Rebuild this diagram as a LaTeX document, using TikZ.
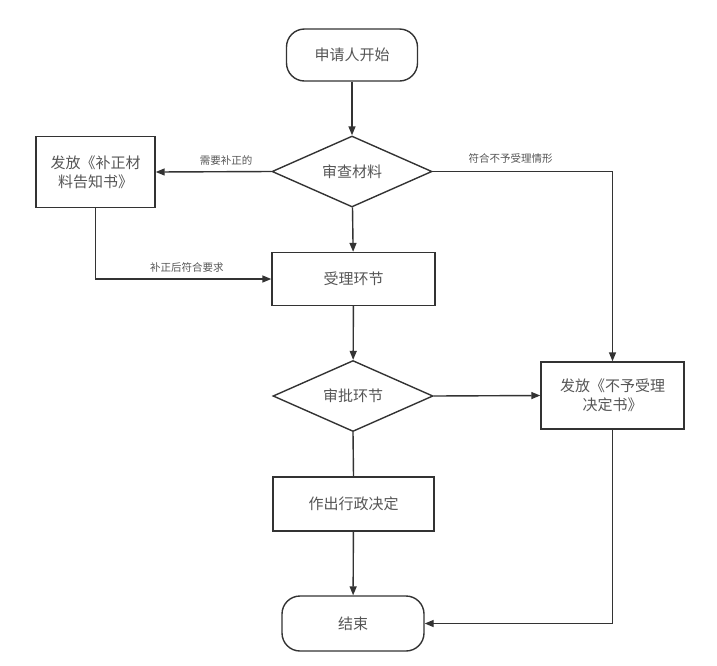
\documentclass[tikz,border=0pt]{standalone}
\usepackage{fontspec}
\setmainfont{Noto Sans CJK SC}
\usetikzlibrary{arrows.meta,shapes.geometric}
\definecolor{linec}{HTML}{333333}
\definecolor{textc}{HTML}{555555}
\tikzset{
  base/.style={draw=linec, line width=1.4pt, text=textc, font=\fontsize{15}{19}\selectfont, align=center, inner sep=0pt},
  term/.style={base, rounded corners=18pt, minimum width=#1, minimum height=52pt},
  procbox/.style={base, rectangle, minimum width=#1},
  decide/.style={base, diamond, aspect=2.25, minimum width=160pt, minimum height=71pt},
  conn/.style={draw=linec, line width=1.4pt, -{Triangle[length=9pt,width=7pt]}},
  plain/.style={draw=linec, line width=1.4pt},
  lbl/.style={text=textc, font=\fontsize{10.5}{12}\selectfont, inner sep=1pt}
}
\begin{document}
\begin{tikzpicture}[x=1pt,y=-1pt]
\useasboundingbox (0,0) rectangle (717,665);
\node[term=131pt] (start) at (352,55) {申请人开始};
\node[decide] (check) at (352,171.5) {审查材料};
\node[procbox=119pt, minimum height=71pt] (notice) at (95.5,172) {发放《补正材\\料告知书》};
\node[procbox=163pt, minimum height=53pt] (accept) at (353.5,279) {受理环节};
\node[decide] (approve) at (353,396) {审批环节};
\node[procbox=143pt, minimum height=67pt] (reject) at (612.5,395.5) {发放《不予受理\\决定书》};
\node[procbox=161pt, minimum height=54pt] (decision) at (353.5,504) {作出行政决定};
\node[term=142pt, minimum height=55pt] (finish) at (353,623.5) {结束};

\draw[conn] (start) -- (check);
\draw[conn] (check.west) -- node[lbl, above=5pt, pos=0.39] {需要补正的} (notice.east);
\draw[conn] (check) -- (accept);
\draw[conn] (notice.south) |- node[lbl, above=5pt, pos=0.76] {补正后符合要求} (accept.west);
\draw[conn] (check.east) -| node[lbl, above=6pt, pos=0.217] {符合不予受理情形} (reject.north);
\draw[conn] (accept) -- (approve);
\draw[conn] (approve.east) -- (reject.west);
\draw[plain] (approve.south) -- (decision.north);
\draw[conn] (decision) -- (finish);
\draw[conn] (reject.south) |- (finish.east);
\end{tikzpicture}
\end{document}
